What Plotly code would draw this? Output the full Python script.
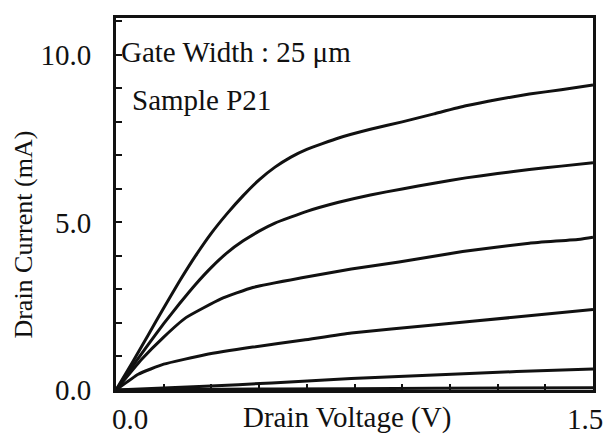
import plotly.graph_objects as go

# Drain I-V characteristics, one trace per gate bias step
vd_1 = [0, 0.05, 0.1, 0.15, 0.2, 0.25, 0.3, 0.35, 0.4, 0.45, 0.5, 0.55, 0.6, 0.7, 0.8, 0.9, 1.0, 1.1, 1.2, 1.3, 1.4, 1.5]
id_1 = [0, 0.8, 1.62, 2.45, 3.25, 4.0, 4.68, 5.27, 5.8, 6.27, 6.65, 6.95, 7.18, 7.52, 7.78, 8.0, 8.24, 8.48, 8.67, 8.83, 8.96, 9.1]

vd_2 = [0, 0.05, 0.1, 0.15, 0.2, 0.25, 0.3, 0.35, 0.4, 0.45, 0.5, 0.6, 0.7, 0.8, 0.9, 1.0, 1.1, 1.2, 1.3, 1.4, 1.5]
id_2 = [0, 0.68, 1.34, 1.98, 2.58, 3.15, 3.66, 4.1, 4.45, 4.74, 4.98, 5.33, 5.6, 5.82, 6.0, 6.17, 6.33, 6.46, 6.58, 6.68, 6.78]

vd_3 = [0, 0.08, 0.15, 0.22, 0.33, 0.43, 0.58, 0.74, 0.89, 1.09, 1.3, 1.46, 1.5]
id_3 = [0, 0.91, 1.58, 2.16, 2.72, 3.06, 3.34, 3.61, 3.82, 4.13, 4.38, 4.5, 4.56]

vd_4 = [0, 0.07, 0.15, 0.28, 0.43, 0.59, 0.74, 0.99, 1.25, 1.5]
id_4 = [0, 0.47, 0.77, 1.05, 1.28, 1.49, 1.7, 1.93, 2.17, 2.4]

vd_5 = [0, 0.28, 0.49, 0.74, 1.0, 1.26, 1.5]
id_5 = [0, 0.11, 0.21, 0.34, 0.45, 0.55, 0.63]

vd_6 = [0, 0.5, 1.0, 1.5]
id_6 = [0, 0.03, 0.05, 0.07]

curves = [(vd_1, id_1), (vd_2, id_2), (vd_3, id_3), (vd_4, id_4), (vd_5, id_5), (vd_6, id_6)]

# Axis ticks and labels
y_ticks = [0, 1, 2, 3, 4, 5, 6, 7, 8, 9, 10, 11]
y_tick_text = ["0.0", "", "", "", "", "5.0", "", "", "", "", "10.0", ""]
x_ticks = [0, 0.15, 0.3, 0.45, 0.6, 0.75, 0.9, 1.05, 1.2, 1.35, 1.5]
x_label_vals = [0.0, 1.5]
x_label_text = ["0.0", "1.5"]
x_label_shift = [14, -8]

FONT = "Times New Roman, Liberation Serif, DejaVu Serif, serif"
INK = "#111111"

fig = go.Figure()
for vd, idr in curves:
    fig.add_trace(go.Scatter(
        x=vd, y=idr, mode="lines",
        line=dict(color=INK, width=3, shape="spline", smoothing=0.4),
        showlegend=False, hoverinfo="skip",
    ))

fig.update_layout(
    width=605, height=439,
    margin=dict(l=116, r=9, t=18, b=49),
    paper_bgcolor="white", plot_bgcolor="white",
    font=dict(family=FONT, size=29, color=INK),
)

fig.update_xaxes(
    range=[0, 1.5], showgrid=False, zeroline=False,
    showline=True, linewidth=3, linecolor=INK, mirror=True,
    ticks="inside", ticklen=6, tickwidth=2, tickcolor=INK,
    tickvals=x_ticks, showticklabels=False,
)
fig.update_yaxes(
    range=[0, 11.1], showgrid=False, zeroline=False,
    showline=True, linewidth=3, linecolor=INK, mirror=True,
    ticks="inside", ticklen=6, tickwidth=2, tickcolor=INK,
    tickvals=y_ticks, ticktext=y_tick_text,
    tickfont=dict(family=FONT, size=29, color=INK),
    ticklabelstandoff=16,
)

annotations = []
for val, txt, sh in zip(x_label_vals, x_label_text, x_label_shift):
    annotations.append(dict(
        x=val, y=0, xref="x", yref="y", text=txt, showarrow=False,
        xanchor="center", yanchor="middle", xshift=sh, yshift=-29,
        font=dict(family=FONT, size=29, color=INK),
    ))

annotations += [
    dict(x=0.484, y=-0.075, xref="paper", yref="paper", text="Drain Voltage (V)",
         showarrow=False, xanchor="center", yanchor="middle",
         font=dict(family=FONT, size=29, color=INK)),
    dict(x=-0.194, y=0.419, xref="paper", yref="paper", text="Drain Current (mA)",
         showarrow=False, textangle=-90, xanchor="center", yanchor="middle",
         font=dict(family=FONT, size=26, color=INK)),
    dict(x=0.006, y=0.909, xref="paper", yref="paper", text="Gate Width : 25 μm",
         showarrow=False, xanchor="left", yanchor="middle",
         font=dict(family=FONT, size=29, color=INK)),
    dict(x=0.03, y=0.78, xref="paper", yref="paper", text="Sample P21",
         showarrow=False, xanchor="left", yanchor="middle",
         font=dict(family=FONT, size=29, color=INK)),
]
fig.update_layout(annotations=annotations)

fig.write_html("out.html")
